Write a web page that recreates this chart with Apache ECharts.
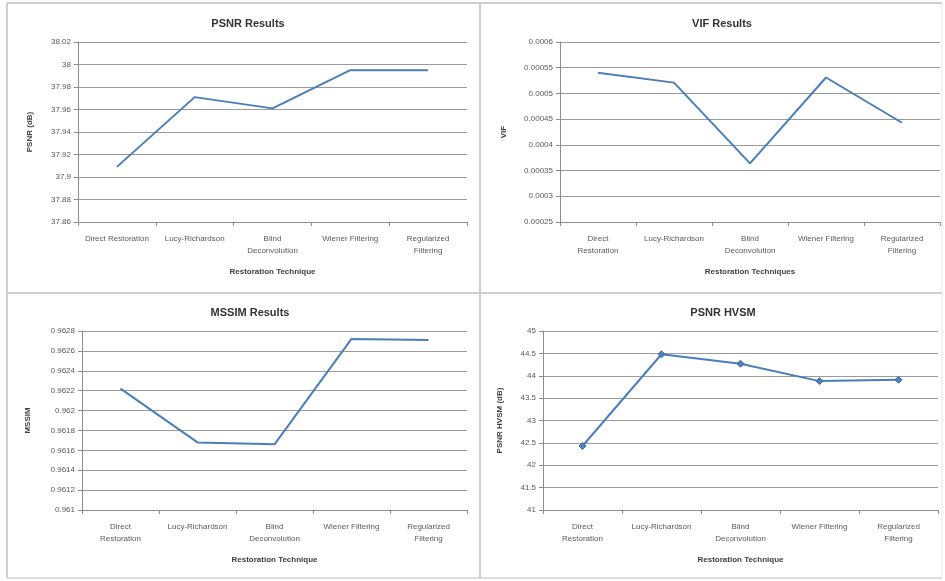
<!DOCTYPE html>
<html>
<head>
<meta charset="utf-8">
<script src="https://cdn.jsdelivr.net/npm/echarts@6/dist/echarts.min.js"></script>
<style>html,body{margin:0;padding:0;background:#fff;}#c{width:945px;height:581px;}</style>
</head>
<body>
<div id="c"></div>
<script>
// ---- data ----
var categories = ['Direct Restoration', 'Lucy-Richardson', 'Blind Deconvolution', 'Wiener Filtering', 'Regularized Filtering'];
var labelsPSNR = ['Direct Restoration', 'Lucy-Richardson', 'Blind\nDeconvolution', 'Wiener Filtering', 'Regularized\nFiltering'];
var labelsOther = ['Direct\nRestoration', 'Lucy-Richardson', 'Blind\nDeconvolution', 'Wiener Filtering', 'Regularized\nFiltering'];
var psnrValues = [37.909, 37.971, 37.961, 37.995, 37.995];
var vifValues = [0.000540, 0.000521, 0.000364, 0.000531, 0.000443];
var mssimValues = [0.96222, 0.96168, 0.96166, 0.96272, 0.96271];
var hvsmValues = [42.43, 44.48, 44.27, 43.88, 43.91];
var psnrAxis = {min: 37.86, max: 38.02, interval: 0.02};
var vifAxis = {min: 0.00025, max: 0.0006, interval: 0.00005};
var mssimAxis = {min: 0.961, max: 0.9628, interval: 0.0002};
var hvsmAxis = {min: 41, max: 45, interval: 0.5};

var FONT = 'Liberation Sans';
var LINE = '#4A7EBB';
var AX = '#8c8c8c';

function xAxis(idx, labels, name) {
  return {
    type: 'category', gridIndex: idx, data: labels, boundaryGap: true,
    axisLine: {lineStyle: {color: AX, width: 1}},
    axisTick: {show: true, length: 4, lineStyle: {color: AX}},
    axisLabel: {interval: 0, fontSize: 8, fontFamily: FONT, color: '#5a5a5a', lineHeight: 12, margin: 11},
    name: name, nameLocation: 'middle', nameGap: 46,
    nameTextStyle: {fontSize: 8, fontWeight: 'bold', fontFamily: FONT, color: '#404040'}
  };
}
function yAxis(idx, ax, name, gap) {
  return {
    type: 'value', gridIndex: idx, min: ax.min, max: ax.max, interval: ax.interval,
    axisLine: {show: true, lineStyle: {color: AX, width: 1}},
    axisTick: {show: true, length: 4, lineStyle: {color: AX}},
    splitLine: {show: true, lineStyle: {color: '#9a9a9a', width: 1}},
    axisLabel: {fontSize: 8, fontFamily: FONT, color: '#5a5a5a', margin: 7},
    name: name, nameLocation: 'middle', nameRotate: 90, nameGap: gap,
    nameTextStyle: {fontSize: 8, fontWeight: 'bold', fontFamily: FONT, color: '#404040'}
  };
}
function titleAt(text, x, y) {
  return {text: text, left: x, top: y, textAlign: 'center',
    textStyle: {fontSize: 11, fontWeight: 'bold', fontFamily: FONT, color: '#333'}};
}
function lineSeries(idx, data, marker) {
  return {
    type: 'line', xAxisIndex: idx, yAxisIndex: idx, data: data,
    lineStyle: {color: LINE, width: 2}, itemStyle: {color: '#4F81BD', borderColor: '#3a6aa8', borderWidth: 1},
    symbol: marker ? 'diamond' : 'none', symbolSize: 7, showSymbol: !!marker, animation: false
  };
}

var chart = echarts.init(document.getElementById('c'), null, {renderer: 'canvas'});
chart.setOption({
  backgroundColor: '#ffffff',
  animation: false,
  title: [
    titleAt('PSNR Results', 243, 13),
    titleAt('VIF Results', 717, 13),
    titleAt('MSSIM Results', 245, 302),
    titleAt('PSNR HVSM', 718, 302)
  ],
  grid: [
    {left: 78, top: 42, width: 389, height: 180},
    {left: 560, top: 42, width: 380, height: 180},
    {left: 82, top: 331, width: 385, height: 179},
    {left: 543, top: 331, width: 395, height: 179}
  ],
  xAxis: [
    xAxis(0, labelsPSNR, 'Restoration Technique'),
    xAxis(1, labelsOther, 'Restoration Techniques'),
    xAxis(2, labelsOther, 'Restoration Technique'),
    xAxis(3, labelsOther, 'Restoration Technique')
  ],
  yAxis: [
    yAxis(0, psnrAxis, 'PSNR (dB)', 44),
    yAxis(1, vifAxis, 'VIF', 52),
    yAxis(2, mssimAxis, 'MSSIM', 50),
    yAxis(3, hvsmAxis, 'PSNR HVSM (dB)', 39)
  ],
  series: [
    lineSeries(0, psnrValues, false),
    lineSeries(1, vifValues, false),
    lineSeries(2, mssimValues, false),
    lineSeries(3, hvsmValues, true)
  ],
  graphic: [
    {type: 'line', shape: {x1: 7, y1: 3, x2: 942, y2: 3}, style: {stroke: '#cfcfcf', lineWidth: 2}},
    {type: 'line', shape: {x1: 7, y1: 3, x2: 7, y2: 578}, style: {stroke: '#cfcfcf', lineWidth: 2}},
    {type: 'line', shape: {x1: 7, y1: 578, x2: 942, y2: 578}, style: {stroke: '#dcdcdc', lineWidth: 2}},
    {type: 'line', shape: {x1: 480, y1: 3, x2: 480, y2: 578}, style: {stroke: '#cfcfcf', lineWidth: 2}},
    {type: 'line', shape: {x1: 7, y1: 293, x2: 942, y2: 293}, style: {stroke: '#cfcfcf', lineWidth: 2}},
    {type: 'line', shape: {x1: 942, y1: 3, x2: 942, y2: 578}, style: {stroke: '#e6e6e6', lineWidth: 1}}
  ]
});
</script>
</body>
</html>
